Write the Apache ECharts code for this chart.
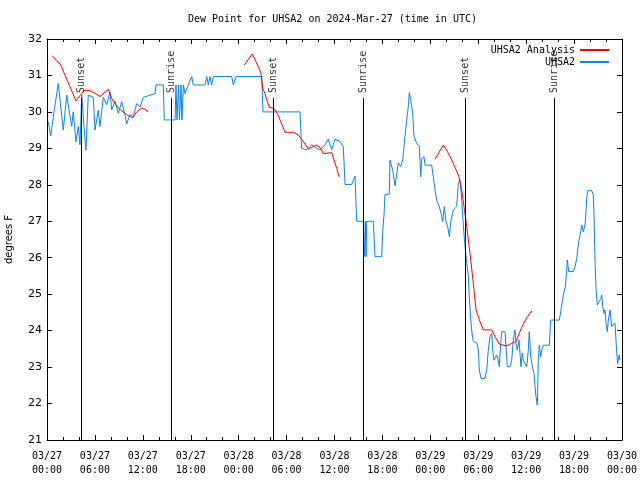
<!DOCTYPE html>
<html><head><meta charset="utf-8">
<script src="https://cdn.jsdelivr.net/npm/echarts/dist/echarts.min.js"></script>
<style>html,body{margin:0;padding:0;background:#fff}#c{width:640px;height:480px}</style>
</head><body><div id="c"></div><script>
// x values are hours since 2024-03-27 00:00 UTC
const tickLabels = ['03/27\n00:00','03/27\n06:00','03/27\n12:00','03/27\n18:00','03/28\n00:00','03/28\n06:00','03/28\n12:00','03/28\n18:00','03/29\n00:00','03/29\n06:00','03/29\n12:00','03/29\n18:00','03/30\n00:00'];

const obsHours = [0.16,0.46,0.88,1.41,2.04,2.47,3.09,3.29,3.63,3.92,4.13,4.35,4.63,4.88,5.17,5.80,6.01,6.42,6.64,7.05,7.48,7.89,8.10,8.51,8.93,9.35,9.77,9.98,10.39,10.81,11.23,11.65,12.06,12.90,13.52,13.65,14.56,14.69,16.03,16.15,16.28,16.47,16.59,16.78,16.90,17.09,17.28,17.69,18.12,18.32,19.78,20.00,20.20,20.41,20.62,20.82,23.13,23.33,23.67,26.88,27.05,31.68,31.89,32.52,33.15,33.77,34.19,34.81,35.22,35.65,36.06,36.69,37.10,37.32,38.15,38.57,38.78,39.61,39.73,39.86,39.95,40.03,40.86,41.07,41.91,42.05,42.20,42.32,42.86,42.95,43.16,43.29,43.58,43.79,43.99,44.29,44.54,44.70,45.04,45.24,45.37,45.54,45.79,45.96,46.29,46.62,46.80,46.92,47.21,47.33,48.17,48.37,48.59,48.80,49.12,49.34,49.55,49.75,49.96,50.18,50.38,50.59,50.88,51.30,51.50,51.72,51.93,52.13,52.34,52.56,52.76,52.88,53.06,53.22,53.38,53.81,54.01,54.13,54.35,54.85,55.06,55.26,55.47,55.69,55.81,55.97,56.31,56.51,56.64,56.81,56.94,57.35,57.48,57.64,57.98,58.19,58.39,58.60,58.73,58.89,59.10,59.23,59.35,59.52,59.64,59.85,60.07,60.27,60.39,60.57,60.77,60.98,61.11,61.23,61.40,61.52,61.65,61.82,61.95,62.15,62.90,63.07,64.15,64.33,64.49,64.65,64.90,65.08,65.15,65.33,65.90,66.12,66.33,66.45,66.62,66.83,66.96,67.16,67.37,67.50,67.58,67.71,68.21,68.41,68.50,68.62,68.75,68.91,69.16,69.34,69.46,69.59,69.75,69.87,70.00,70.16,70.29,70.50,70.71,70.91,71.13,71.34,71.46,71.63,71.75];
const obsValues = [29.73,29.34,30.00,30.78,29.50,30.46,29.60,30.00,29.18,29.60,29.10,30.46,29.60,28.95,30.46,30.40,29.50,30.05,29.60,30.40,30.20,30.55,30.05,30.30,29.96,30.28,29.92,29.67,29.92,29.87,30.23,30.14,30.40,30.46,30.50,30.74,30.74,29.78,29.78,30.74,29.78,30.74,29.78,30.74,29.78,30.74,30.50,30.74,30.97,30.74,30.74,30.97,30.74,30.97,30.74,30.97,30.97,30.74,30.97,30.97,30.00,30.00,29.00,28.96,29.10,29.00,28.96,29.10,29.25,28.96,29.25,29.19,29.05,28.01,28.01,28.24,27.00,27.00,26.03,27.00,26.03,27.00,27.00,26.03,26.03,26.76,27.17,27.74,27.74,28.68,28.68,28.40,27.97,27.97,28.60,28.50,28.68,29.05,29.78,30.14,30.53,30.33,29.96,29.32,29.14,29.05,28.22,28.72,28.77,28.54,28.54,28.22,27.86,27.58,27.40,27.22,26.99,27.40,26.99,26.85,26.58,27.03,27.31,27.40,28.04,28.13,27.58,26.90,26.30,25.85,25.50,24.93,24.29,23.93,23.70,23.67,23.47,22.92,22.69,22.69,22.92,23.47,23.83,23.93,23.47,23.19,23.33,23.19,23.01,23.65,23.97,23.97,23.56,23.01,23.01,23.19,23.74,24.02,23.65,23.47,23.74,23.38,23.01,23.38,23.19,23.10,23.01,23.47,23.97,23.28,23.01,22.83,22.46,22.19,21.96,23.19,23.60,23.28,23.47,23.60,23.60,24.29,24.29,24.52,24.75,24.98,25.20,25.66,25.94,25.62,25.62,25.75,25.98,26.21,26.49,26.71,26.90,26.71,26.90,27.31,27.63,27.84,27.84,27.72,27.13,25.94,25.16,24.70,24.70,24.88,24.98,24.66,24.47,24.57,24.20,23.97,24.29,24.57,24.11,24.15,24.20,23.38,23.10,23.33,23.20];

// analysis: null marks a gap between segments
const anaHours = [0.66,1.21,1.71,2.25,2.88,3.63,4.13,4.76,5.38,6.01,6.64,7.26,7.68,8.10,8.73,9.35,9.98,10.73,11.23,11.86,12.27,12.69,18.0,24.71,25.71,26.05,26.46,26.80,27.01,27.30,27.59,27.84,28.26,28.55,28.84,29.18,29.52,29.80,30.84,31.47,32.02,32.72,33.15,33.77,34.19,34.60,35.65,35.94,36.28,36.60,42.0,48.59,49.63,50.05,50.68,51.22,51.59,51.93,52.22,52.56,52.97,53.38,53.72,54.13,54.63,55.69,56.10,56.64,57.48,58.19,58.73,59.14,59.57,60.07,60.70];
const anaValues = [31.53,31.41,31.29,31.01,30.69,30.30,30.45,30.60,30.58,30.51,30.42,30.54,30.62,30.37,30.16,30.03,29.92,29.84,30.00,30.11,30.07,30.00,null,31.29,31.59,31.43,31.24,31.06,30.65,30.50,30.28,30.13,30.10,30.05,29.96,29.78,29.60,29.44,29.44,29.37,29.21,28.98,29.03,29.09,29.02,28.86,28.88,28.68,28.45,28.21,null,28.70,29.09,28.95,28.68,28.41,28.22,27.86,27.40,26.85,26.12,25.30,24.57,24.30,24.02,24.02,23.84,23.63,23.58,23.65,23.70,23.93,24.15,24.35,24.54];

const sunTimes = [4.26, 15.61, 28.34, 39.61, 52.39, 63.53];
const sunNames = ['Sunset','Sunrise','Sunset','Sunrise','Sunset','Sunrise'];

const MONO = '"DejaVu Sans Mono", "Liberation Mono", monospace';
const SANS = '"DejaVu Sans", "Liberation Sans", sans-serif';
const Y_MIN = 21, Y_MAX = 32, LINE_TOP = 30.38, LABEL_BASE = 30.52;

const obsData = obsHours.map((h, i) => [h, obsValues[i]]);
const anaData = anaHours.map((h, i) => [h, anaValues[i]]);

const xCommon = {
  type: 'value', min: 0, max: 72, interval: 6,
  axisLine: { show: true, onZero: false, lineStyle: { color: '#000', width: 1 } },
  axisTick: { show: true, inside: true, length: 5, lineStyle: { color: '#000' } },
  minorTick: { show: true, splitNumber: 3, length: 3, lineStyle: { color: '#000' } },
  splitLine: { show: false }
};
const yCommon = {
  type: 'value', min: Y_MIN, max: Y_MAX, interval: 1,
  axisLine: { show: true, onZero: false, lineStyle: { color: '#000', width: 1 } },
  axisTick: { show: true, inside: true, length: 5, lineStyle: { color: '#000' } },
  splitLine: { show: false }
};

const chart = echarts.init(document.getElementById('c'), null, { renderer: 'canvas' });
chart.setOption({
  animation: false,
  backgroundColor: '#fff',
  title: {
    text: 'Dew Point for UHSA2 on 2024-Mar-27 (time in UTC)',
    left: 188, top: 14, padding: 0,
    textStyle: { fontFamily: MONO, fontSize: 10, fontWeight: 'normal', color: '#000' }
  },
  grid: { left: 47, right: 18, top: 39, bottom: 40, containLabel: false, outerBoundsMode: 'none' },
  legend: {
    data: ['UHSA2 Analysis', 'UHSA2'],
    orient: 'vertical', right: 30, top: 45, padding: 0,
    align: 'right', itemWidth: 29, itemHeight: 10, itemGap: 2,
    itemStyle: { opacity: 0 },
    textStyle: { fontFamily: MONO, fontSize: 10, color: '#000' }
  },
  xAxis: [
    Object.assign({}, xCommon, {
      position: 'bottom',
      axisLabel: { formatter: v => tickLabels[Math.round(v / 6)], fontFamily: MONO, fontSize: 10, color: '#000', lineHeight: 14, margin: 9 }
    }),
    Object.assign({}, xCommon, { position: 'top', axisLabel: { show: false } })
  ],
  yAxis: [
    Object.assign({}, yCommon, {
      position: 'left',
      name: 'degrees F', nameLocation: 'middle', nameGap: 33, nameRotate: 90,
      nameTextStyle: { fontFamily: SANS, fontSize: 10, color: '#000' },
      axisLabel: { fontFamily: SANS, fontSize: 11, color: '#000', margin: 5 }
    }),
    Object.assign({}, yCommon, { position: 'right', axisLabel: { show: false } })
  ],
  series: [
    {
      name: 'UHSA2', type: 'line', data: obsData, xAxisIndex: 0, yAxisIndex: 0,
      symbol: 'none', lineStyle: { color: '#0a84f0', width: 1 }, itemStyle: { color: '#0a84f0' },
      z: 2,
      markLine: {
        silent: true, symbol: ['none', 'none'], animation: false,
        label: { show: false },
        lineStyle: { color: '#000', width: 1, type: 'solid' },
        emphasis: { disabled: true },
        data: sunTimes.map(t => [{ coord: [t, Y_MIN] }, { coord: [t, LINE_TOP] }])
      }
    },
    {
      name: 'UHSA2 Analysis', type: 'line', data: anaData, xAxisIndex: 0, yAxisIndex: 0,
      symbol: 'none', connectNulls: false, lineStyle: { color: '#ff0000', width: 1 }, itemStyle: { color: '#ff0000' },
      z: 3
    },
    {
      name: 'sun', type: 'scatter', silent: true, symbolSize: 0, z: 4,
      data: sunTimes.map((t, i) => [t, LABEL_BASE, sunNames[i]]),
      label: {
        show: true, position: 'inside', rotate: 90, align: 'left', verticalAlign: 'middle',
        formatter: p => p.data[2], fontFamily: MONO, fontSize: 10, color: '#000'
      }
    }
  ]
});
</script></body></html>
